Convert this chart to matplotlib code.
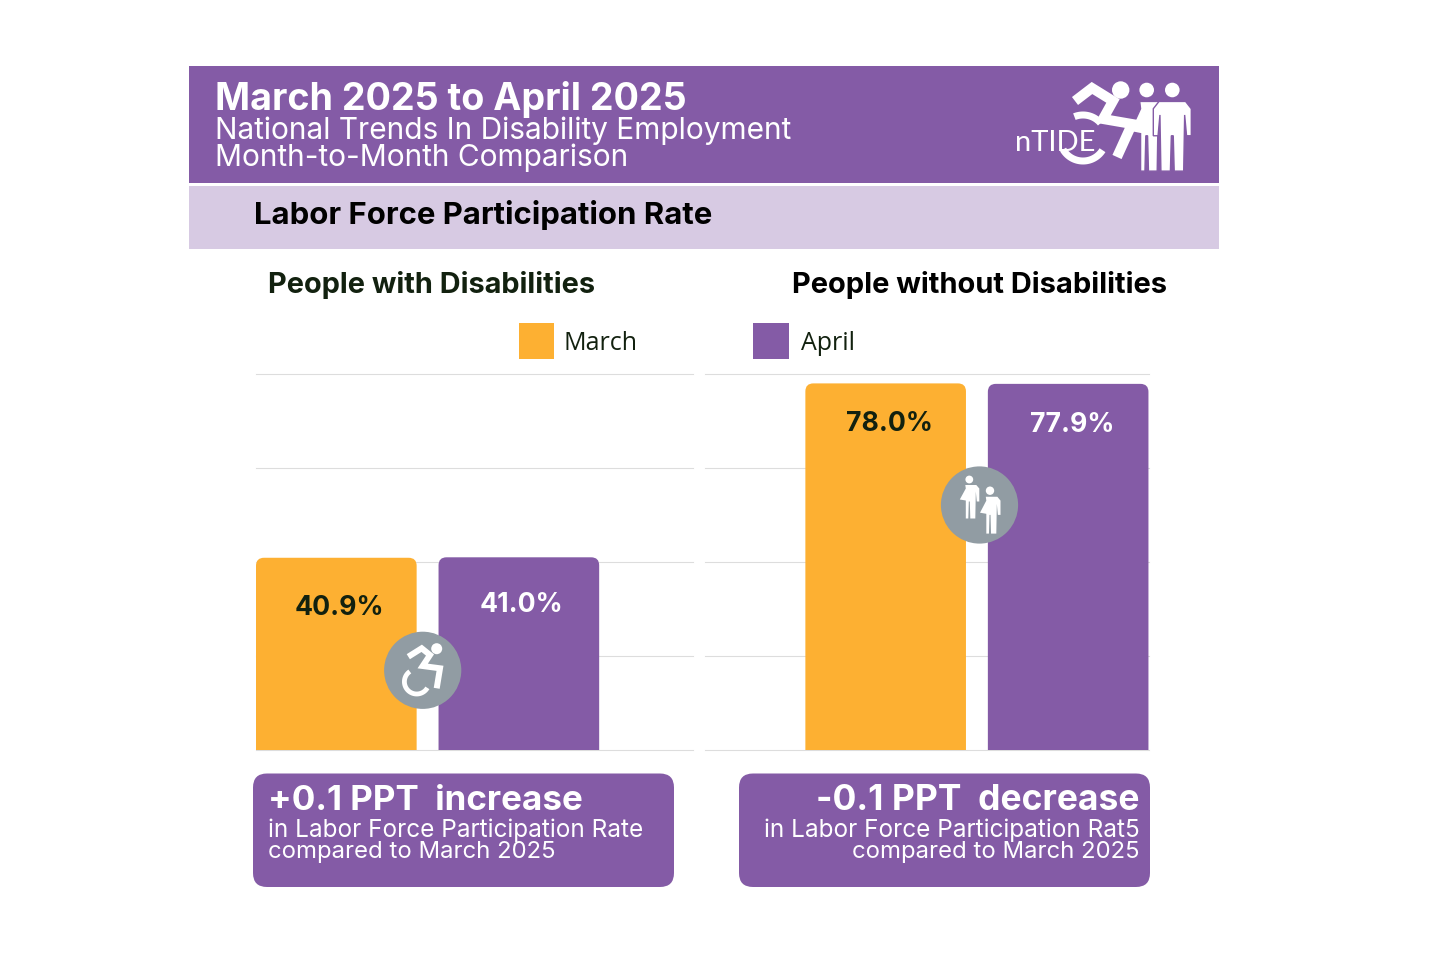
import numpy as np
import matplotlib
matplotlib.use("Agg")
import matplotlib.pyplot as plt
from matplotlib.patches import Rectangle, Circle, Polygon, FancyBboxPatch, PathPatch
from matplotlib.path import Path

months = ["March", "April"]
with_dis = [40.9, 41.0]
without_dis = [78.0, 77.9]
with_labels = ["40.9%", "41.0%"]
without_labels = ["78.0%", "77.9%"]
yticks = [0, 20, 40, 60, 80]

purple = "#845BA6"
orange = "#FDB032"
band = "#D7CAE3"
grey = "#919CA3"
dark = "#12210F"
head_font = "Inter"
W, H = 1440, 960
PX = 0.72  # line widths are given in pixels below

fig = plt.figure(figsize=(W / 100, H / 100), dpi=100, facecolor="white")


def axes_px(x0, x1, y0, y1):
    return fig.add_axes([x0 / W, 1 - y1 / H, (x1 - x0) / W, (y1 - y0) / H])


def rounded_bars(ax, vals, labels, colors, txt_colors, offs):
    # bars with only the top corners rounded, 8px radius
    rx = 8 / 182.5
    ry = 8 / 4.7
    for i, v in enumerate(vals):
        l, r = i - 0.44, i + 0.44
        verts = [(l, 0), (l, v - ry), (l, v), (l + rx, v), (r - rx, v), (r, v), (r, v - ry), (r, 0), (l, 0)]
        codes = [Path.MOVETO, Path.LINETO, Path.CURVE3, Path.CURVE3, Path.LINETO, Path.CURVE3, Path.CURVE3,
                 Path.LINETO, Path.CLOSEPOLY]
        ax.add_patch(PathPatch(Path(verts, codes), fc=colors[i], ec="none", zorder=3))
        ax.annotate(labels[i], (i, v), xytext=offs[i], textcoords="offset pixels", ha="center", va="center",
                    fontsize=19.2, fontweight="bold", family=head_font, color=txt_colors[i], zorder=4)


def setup(ax, xlim):
    ax.set_xlim(*xlim)
    ax.set_ylim(0, 80)
    ax.set_yticks(yticks)
    ax.set_xticks([])
    ax.tick_params(left=False, labelleft=False)
    ax.grid(axis="y", color="#DDDDDD", lw=0.8)
    for gl in ax.get_ygridlines():
        gl.set_clip_on(False)
    ax.set_axisbelow(True)
    for s in ax.spines.values():
        s.set_visible(False)
    ax.patch.set_alpha(0)


ax1 = axes_px(256, 693, 374, 750)
setup(ax1, (-0.44, 1.954))
rounded_bars(ax1, with_dis, with_labels, [orange, purple], [dark, "white"], [(3, -50), (3, -47.5)])

ax2 = axes_px(705, 1149, 374, 750)
setup(ax2, (-0.99, 1.443))
rounded_bars(ax2, without_dis, without_labels, [orange, purple], [dark, "white"], [(3.5, -41), (4.5, -41)])

# overlay in pixel coordinates for the panels and icons
ov = fig.add_axes([0, 0, 1, 1])
ov.set_xlim(0, W)
ov.set_ylim(H, 0)
ov.axis("off")
ov.patch.set_alpha(0)

ov.add_patch(Rectangle((189, 66), 1030, 117, fc=purple, ec="none"))
ov.add_patch(Rectangle((189, 186), 1030, 63, fc=band, ec="none"))

ov.text(215, 99, "March 2025 to April 2025", fontsize=27.1, fontweight="bold", family=head_font, color="white",
        va="center")
ov.text(215, 131, "National Trends In Disability Employment", fontsize=21.5, family=head_font, color="white",
        va="center")
ov.text(215, 158, "Month-to-Month Comparison", fontsize=21.5, family=head_font, color="white", va="center")
ov.text(254, 215, "Labor Force Participation Rate", fontsize=22.4, fontweight="bold", family=head_font, color="black",
        va="center")
ov.text(268, 285, "People with Disabilities", fontsize=20.8, fontweight="bold", family=head_font, color=dark,
        va="center")
ov.text(792, 285, "People without Disabilities", fontsize=20.9, fontweight="bold", family=head_font, color="black",
        va="center")

# legend
ov.add_patch(Rectangle((518.5, 323), 35.5, 36, fc=orange, ec="none"))
ov.text(563, 343, months[0], fontsize=18, family="Open Sans", color=dark, va="center")
ov.add_patch(Rectangle((753, 323), 35.5, 36, fc=purple, ec="none"))
ov.text(801, 343, months[1], fontsize=18, family="Open Sans", color=dark, va="center")

# callouts
for x0, x1 in [(253, 674), (739, 1150)]:
    ov.add_patch(FancyBboxPatch((x0 + 14, 773.5 + 14), x1 - x0 - 28, 113.5 - 28,
                                boxstyle="round,pad=14,rounding_size=14", fc=purple, ec="none"))
ov.text(268, 801, "+0.1 PPT  increase", fontsize=25.2, fontweight="bold", family=head_font, color="white", va="center")
ov.text(268, 830, "in Labor Force Participation Rate", fontsize=17.5, family=head_font, color="white", va="center")
ov.text(268, 852, "compared to March 2025", fontsize=17.2, family=head_font, color="white", va="center")
ov.text(1140, 801, "-0.1 PPT  decrease", fontsize=25.5, fontweight="bold", family=head_font, color="white", va="center",
        ha="right")
ov.text(1140, 830, "in Labor Force Participation Rat5", fontsize=17.5, family=head_font, color="white", va="center",
        ha="right")
ov.text(1140, 852, "compared to March 2025", fontsize=17.2, family=head_font, color="white", va="center", ha="right")


def arc(cx, cy, r, a0, a1, lw):
    t = np.radians(np.linspace(a0, a1, 40))
    ov.plot(cx + r * np.cos(t), cy + r * np.sin(t), color="white", lw=lw * PX, solid_capstyle="butt")


def chain(pts, lw):
    pts = np.array(pts)
    ov.plot(pts[:, 0], pts[:, 1], color="white", lw=lw * PX, solid_joinstyle="miter", solid_capstyle="butt")


def person(cx, cy, sx, sy, r, dress=True, line=None):
    # head centre at cx,cy
    ov.add_patch(Circle((cx, cy), r, fc="white", ec="none"))
    if dress:
        pts = [(-4, 5.5), (7, 5.5), (10, 9), (10, 22), (7.5, 22), (6.5, 12), (6, 39), (1, 39), (0.5, 22), (-0.5, 22),
               (-1, 39), (-3.5, 39), (-3.5, 21), (-9.5, 20), (-3.5, 9)]
    else:
        pts = [(-7, 5.5), (7, 5.5), (10, 9), (10, 22), (7.5, 22), (6.5, 12), (6, 39), (1, 39), (0.5, 22), (-0.5, 22),
               (-1, 39), (-6, 39), (-6.5, 12), (-7.5, 22), (-10, 22), (-10, 9)]
    pts = [(cx + a * sx, cy + b * sy) for a, b in pts]
    ov.add_patch(Polygon(pts, closed=True, fc="white", ec=purple if line else "none", lw=line or 0))


# badge, wheelchair
ov.add_patch(Circle((422.7, 670.3), 38.6, fc=grey, ec="none"))
ov.add_patch(Circle((436.7, 648.7), 5.5, fc="white", ec="none"))
chain([(408.3, 656.7), (421.7, 648.3), (430, 655), (422.7, 666), (440, 668.3), (436.7, 688.3)], 6)
arc(416.7, 681.7, 12.3, 30, 236, 4.8)

# badge, people
ov.add_patch(Circle((979.5, 505), 38.6, fc=grey, ec="none"))
person(969.3, 479.5, 1, 1, 3.9)
person(990, 490.7, 1.05, 1.1, 4.2)

# logo
chain([(1075, 101), (1092, 88), (1113, 101), (1103, 119), (1132, 124), (1117, 157)], 10)
ov.add_patch(Circle((1120.7, 90), 8.7, fc="white", ec="none"))
arc(1083, 138, 23, 32, 150, 7)
arc(1083, 138, 23, -112, -40, 7)
person(1146.7, 90, 1.75, 2.08, 7.3, line=1)
person(1172.3, 90, 1.9, 2.08, 7.3, dress=False, line=1)
ov.text(1015, 143, "nTIDE", fontsize=21, family="Lato", color="white", va="center")

fig.savefig("out.png", dpi=100, facecolor="white")
